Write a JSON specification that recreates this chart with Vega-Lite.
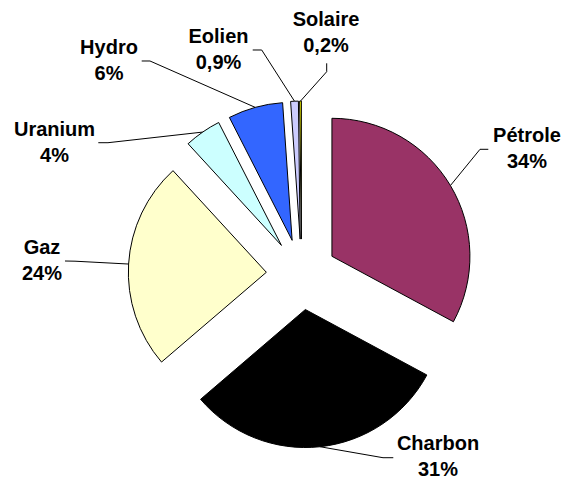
{
  "$schema": "https://vega.github.io/schema/vega-lite/v6.json",
  "width": 565,
  "height": 479,
  "autosize": "none",
  "padding": 0,
  "background": "white",
  "config": {"view": {"stroke": null}},
  "data": {
    "values": [
      {"category": "Pétrole", "value": 32.8, "label": "34%"},
      {"category": "Charbon", "value": 30.8, "label": "31%"},
      {"category": "Gaz", "value": 24.4, "label": "24%"},
      {"category": "Uranium", "value": 4.3, "label": "4%"},
      {"category": "Hydro", "value": 6.4, "label": "6%"},
      {"category": "Eolien", "value": 0.9, "label": "0,9%"},
      {"category": "Solaire", "value": 0.2, "label": "0,2%"}
    ]
  },
  "transform": [
    {"joinaggregate": [{"op": "sum", "field": "value", "as": "total"}]},
    {"window": [{"op": "sum", "field": "value", "as": "cum"}, {"op": "row_number", "as": "idx"}], "frame": [null, 0]},
    {"calculate": "(datum.cum - datum.value) / datum.total", "as": "f0"},
    {"calculate": "datum.cum / datum.total", "as": "f1"},
    {"calculate": "(datum.f0 + datum.f1) * PI", "as": "mid"},
    {"calculate": "0.256 * sin(datum.mid)", "as": "ex"},
    {"calculate": "0.256 * cos(datum.mid)", "as": "ey"},
    {"calculate": "datum.ex + sin(datum.mid)", "as": "ax"},
    {"calculate": "datum.ey + cos(datum.mid)", "as": "ay"},
    {"calculate": "[1.6333, 0.9884, -1.8812, -1.7906, -1.3957, -0.6022, 0.1768][datum.idx - 1]", "as": "lx"},
    {"calculate": "[0.9993, -1.2254, 0.1877, 1.0428, 1.6370, 1.7167, 1.8399][datum.idx - 1]", "as": "ly"},
    {"calculate": "[1.2928, 0.5899, -1.6420, -1.4029, -1.0986, -0.2891, 0.1819][datum.idx - 1]", "as": "bx"},
    {"calculate": "[0.9065, -1.3283, 0.0957, 0.9543, 1.5464, 1.6261, 1.4688][datum.idx - 1]", "as": "by"},
    {"calculate": "[1.3529, 0.6645, -1.7145, -1.4732, -1.1587, -0.3543, 0.1819][datum.idx - 1]", "as": "cx"},
    {"calculate": "[0.9065, -1.3283, 0.0971, 0.9543, 1.5464, 1.6261, 1.5297][datum.idx - 1]", "as": "cy"},
    {"calculate": "[datum.category, datum.label]", "as": "txt"}
  ],
  "layer": [
    {
      "mark": {"type": "arc", "outerRadius": 138, "stroke": "#000000", "strokeWidth": 1},
      "encoding": {
        "x": {"field": "ex", "type": "quantitative", "scale": {"domain": [-2.18551, 1.90870], "nice": false, "zero": false}, "axis": null},
        "y": {"field": "ey", "type": "quantitative", "scale": {"domain": [-1.48261, 1.98841], "nice": false, "zero": false}, "axis": null},
        "theta": {"field": "f0", "type": "quantitative", "scale": {"domain": [0, 1]}},
        "theta2": {"field": "f1"},
        "color": {
          "field": "category",
          "type": "nominal",
          "scale": {
            "domain": ["Pétrole", "Charbon", "Gaz", "Uranium", "Hydro", "Eolien", "Solaire"],
            "range": ["#993366", "#000000", "#FFFFCC", "#CCFFFF", "#3366FF", "#CCCCFF", "#FFFF00"]
          },
          "legend": null
        }
      }
    },
    {
      "mark": {"type": "rule", "color": "#000000", "strokeWidth": 1},
      "encoding": {
        "x": {"field": "ax", "type": "quantitative"},
        "y": {"field": "ay", "type": "quantitative"},
        "x2": {"field": "bx"},
        "y2": {"field": "by"}
      }
    },
    {
      "mark": {"type": "rule", "color": "#000000", "strokeWidth": 1},
      "encoding": {
        "x": {"field": "bx", "type": "quantitative"},
        "y": {"field": "by", "type": "quantitative"},
        "x2": {"field": "cx"},
        "y2": {"field": "cy"}
      }
    },
    {
      "mark": {"type": "text", "font": "Liberation Sans", "fontWeight": "bold", "fontSize": 20, "lineHeight": 26, "align": "center", "baseline": "middle", "color": "#000000"},
      "encoding": {
        "x": {"field": "lx", "type": "quantitative"},
        "y": {"field": "ly", "type": "quantitative"},
        "text": {"field": "txt", "type": "nominal"}
      }
    }
  ]
}
